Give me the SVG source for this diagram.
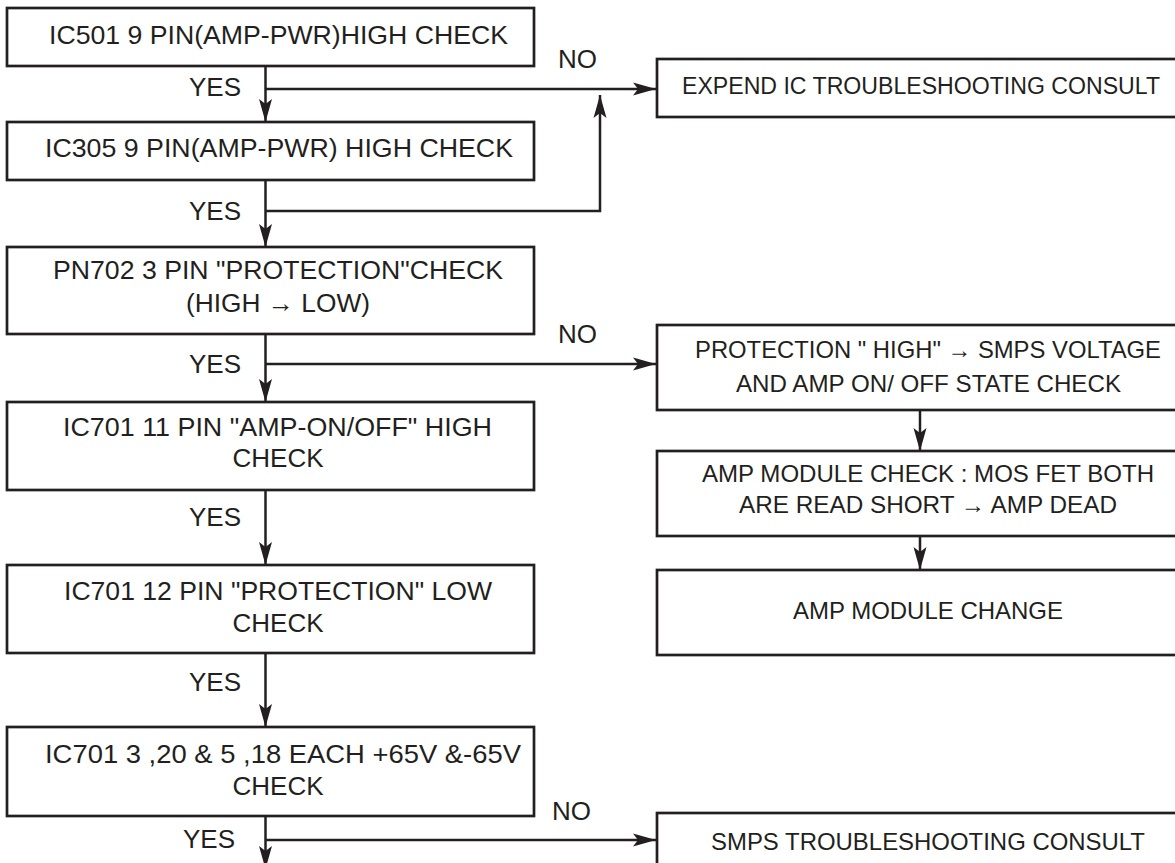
<svg xmlns="http://www.w3.org/2000/svg" width="1175" height="863" viewBox="0 0 1175 863">
<style>
.box{fill:#fff;stroke:#231f20;stroke-width:2.7}
.ln{fill:none;stroke:#231f20;stroke-width:2.5}
text{font-family:"Liberation Sans",Arial,Helvetica,sans-serif;font-size:26px;fill:#231f20}
.r{font-size:24px;text-anchor:middle}
.c{text-anchor:middle}
.e{text-anchor:end}
</style>
<defs>
<marker id="ah" markerUnits="userSpaceOnUse" markerWidth="26" markerHeight="16" viewBox="-24 -8 26 16" refX="0" refY="0" orient="auto">
<path d="M0,0 L-23,-6.5 L-18,0 L-23,6.5 Z" fill="#231f20"/>
</marker>
</defs>
<rect width="1175" height="863" fill="#fff"/>
<g id="connectors">
<line class="ln" x1="265.5" y1="66" x2="265.5" y2="122" marker-end="url(#ah)"/>
<line class="ln" x1="265.5" y1="89" x2="656" y2="89" marker-end="url(#ah)"/>
<line class="ln" x1="265.5" y1="180" x2="265.5" y2="247" marker-end="url(#ah)"/>
<polyline class="ln" points="265.5,211 600,211 600,95" marker-end="url(#ah)"/>
<line class="ln" x1="265.5" y1="334" x2="265.5" y2="402" marker-end="url(#ah)"/>
<line class="ln" x1="265.5" y1="364" x2="656" y2="364" marker-end="url(#ah)"/>
<line class="ln" x1="265.5" y1="490" x2="265.5" y2="565" marker-end="url(#ah)"/>
<line class="ln" x1="265.5" y1="653" x2="265.5" y2="727" marker-end="url(#ah)"/>
<line class="ln" x1="265.5" y1="816" x2="265.5" y2="869" marker-end="url(#ah)"/>
<line class="ln" x1="265.5" y1="840" x2="656" y2="840" marker-end="url(#ah)"/>
<line class="ln" x1="920" y1="410" x2="920" y2="451" marker-end="url(#ah)"/>
<line class="ln" x1="920" y1="536" x2="920" y2="570" marker-end="url(#ah)"/>
</g>
<g id="labels">
<text class="e" x="241" y="96">YES</text>
<text class="e" x="241" y="220">YES</text>
<text class="e" x="241" y="373">YES</text>
<text class="e" x="241" y="526">YES</text>
<text class="e" x="241" y="691">YES</text>
<text class="e" x="235" y="848">YES</text>
<text x="558" y="68">NO</text>
<text x="558" y="343">NO</text>
<text x="552" y="820">NO</text>
</g>
<g id="n1">
<rect class="box" x="7" y="8" width="527" height="58"/>
<text x="49" y="44" textLength="459" lengthAdjust="spacingAndGlyphs">IC501 9 PIN(AMP-PWR)HIGH CHECK</text>
</g>
<g id="n2">
<rect class="box" x="7" y="122" width="527" height="58"/>
<text x="45" y="157" textLength="468" lengthAdjust="spacingAndGlyphs">IC305 9 PIN(AMP-PWR) HIGH CHECK</text>
</g>
<g id="n3">
<rect class="box" x="7" y="247" width="527" height="87"/>
<text x="53" y="279" textLength="450" lengthAdjust="spacingAndGlyphs">PN702 3 PIN "PROTECTION"CHECK</text>
<text x="186" y="312" textLength="184" lengthAdjust="spacingAndGlyphs">(HIGH → LOW)</text>
</g>
<g id="n4">
<rect class="box" x="7" y="402" width="527" height="88"/>
<text x="63" y="436" textLength="429" lengthAdjust="spacingAndGlyphs">IC701 11 PIN "AMP-ON/OFF" HIGH</text>
<text class="c" x="278" y="467">CHECK</text>
</g>
<g id="n5">
<rect class="box" x="7" y="565" width="527" height="88"/>
<text x="64" y="600" textLength="428" lengthAdjust="spacingAndGlyphs">IC701 12 PIN "PROTECTION" LOW</text>
<text class="c" x="278" y="632">CHECK</text>
</g>
<g id="n6">
<rect class="box" x="7" y="727" width="527" height="89"/>
<text x="45" y="763" textLength="476" lengthAdjust="spacingAndGlyphs">IC701 3 ,20 &amp; 5 ,18 EACH +65V &amp;-65V</text>
<text class="c" x="278" y="795">CHECK</text>
</g>
<g id="n7">
<rect class="box" x="657" y="59" width="519.5" height="58"/>
<text class="r" x="921" y="94" style="font-size:23px" textLength="478" lengthAdjust="spacingAndGlyphs">EXPEND IC TROUBLESHOOTING CONSULT</text>
</g>
<g id="n8">
<rect class="box" x="657" y="325" width="519.5" height="85"/>
<text class="r" x="928" y="358" textLength="466" lengthAdjust="spacingAndGlyphs">PROTECTION " HIGH" → SMPS VOLTAGE</text>
<text class="r" x="928.5" y="392" textLength="385" lengthAdjust="spacingAndGlyphs">AND AMP ON/ OFF STATE CHECK</text>
</g>
<g id="n9">
<rect class="box" x="657" y="451" width="519.5" height="85"/>
<text class="r" x="928" y="482" textLength="452" lengthAdjust="spacingAndGlyphs">AMP MODULE CHECK : MOS FET BOTH</text>
<text class="r" x="928" y="513" textLength="378" lengthAdjust="spacingAndGlyphs">ARE READ SHORT → AMP DEAD</text>
</g>
<g id="n10">
<rect class="box" x="657" y="570" width="519.5" height="85"/>
<text class="r" x="928" y="619" textLength="270" lengthAdjust="spacingAndGlyphs">AMP MODULE CHANGE</text>
</g>
<g id="n11">
<rect class="box" x="657" y="813" width="519.5" height="70"/>
<text class="r" x="928" y="850" textLength="434" lengthAdjust="spacingAndGlyphs">SMPS TROUBLESHOOTING CONSULT</text>
</g>
</svg>
